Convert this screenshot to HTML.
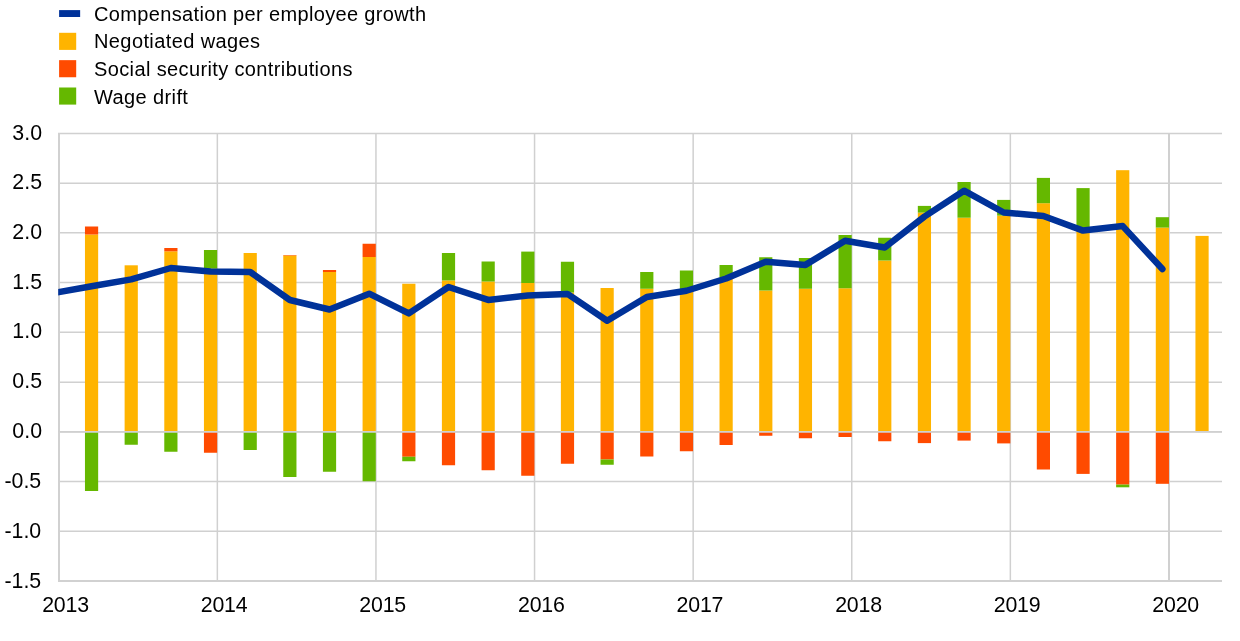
<!DOCTYPE html>
<html lang="en"><head><meta charset="utf-8"><title>Chart</title>
<style>
html,body{margin:0;padding:0;background:#fff;}
body{width:1240px;height:641px;overflow:hidden;}
svg{display:block;}
text{font-family:"Liberation Sans",Arial,sans-serif;font-size:20px;fill:#000;}
text.ax{font-size:21.33px;}
</style></head><body>
<svg width="1240" height="641" viewBox="0 0 1240 641">
<rect width="1240" height="641" fill="#fff"/>

<rect x="59.1" y="10.1" width="21.05" height="6.9" fill="#003299"/>
<rect x="59.1" y="32.8" width="17.1" height="17.1" fill="#FFB400"/>
<rect x="59.1" y="60.15" width="17.1" height="17.1" fill="#FF4B00"/>
<rect x="59.1" y="87.5" width="17.1" height="17.1" fill="#65B800"/>
<text x="94.0" y="20.6" letter-spacing="0.35">Compensation per employee growth</text>
<text x="94.0" y="48.3" letter-spacing="0.4">Negotiated wages</text>
<text x="94.0" y="75.6" letter-spacing="0.375">Social security contributions</text>
<text x="94.0" y="103.8" letter-spacing="0.39">Wage drift</text>
<g stroke="#D0D0D0" stroke-width="1.5" fill="none">
<line x1="58.0" x2="1222" y1="133.50" y2="133.50"/>
<line x1="58.0" x2="1222" y1="183.30" y2="183.30"/>
<line x1="58.0" x2="1222" y1="232.70" y2="232.70"/>
<line x1="58.0" x2="1222" y1="282.50" y2="282.50"/>
<line x1="58.0" x2="1222" y1="332.25" y2="332.25"/>
<line x1="58.0" x2="1222" y1="382.20" y2="382.20"/>
<line x1="58.0" x2="1222" y1="431.85" y2="431.85"/>
<line x1="58.0" x2="1222" y1="481.55" y2="481.55"/>
<line x1="58.0" x2="1222" y1="531.30" y2="531.30"/>
<line x1="217.35" x2="217.35" y1="133.5" y2="581.0"/>
<line x1="375.95" x2="375.95" y1="133.5" y2="581.0"/>
<line x1="534.55" x2="534.55" y1="133.5" y2="581.0"/>
<line x1="693.15" x2="693.15" y1="133.5" y2="581.0"/>
<line x1="851.75" x2="851.75" y1="133.5" y2="581.0"/>
<line x1="1010.35" x2="1010.35" y1="133.5" y2="581.0"/>
<line x1="1169" x2="1169" y1="133.5" y2="581.0" stroke-width="2"/>
</g>
<path d="M59 132.9 V581.0 H1222" stroke="#D1D1D1" stroke-width="2" fill="none"/>
<rect x="84.96" y="234.50" width="13.2" height="197.33" fill="#FFB400"/>
<rect x="84.96" y="226.50" width="13.2" height="8.00" fill="#FF4B00"/>
<rect x="84.96" y="431.83" width="13.2" height="59.17" fill="#65B800"/>
<rect x="124.62" y="265.30" width="13.2" height="166.53" fill="#FFB400"/>
<rect x="124.62" y="431.83" width="13.2" height="12.92" fill="#65B800"/>
<rect x="164.28" y="251.30" width="13.2" height="180.53" fill="#FFB400"/>
<rect x="164.28" y="248.00" width="13.2" height="3.30" fill="#FF4B00"/>
<rect x="164.28" y="431.83" width="13.2" height="19.92" fill="#65B800"/>
<rect x="203.94" y="268.60" width="13.2" height="163.23" fill="#FFB400"/>
<rect x="203.94" y="250.00" width="13.2" height="18.60" fill="#65B800"/>
<rect x="203.94" y="431.83" width="13.2" height="20.92" fill="#FF4B00"/>
<rect x="243.60" y="253.00" width="13.2" height="178.83" fill="#FFB400"/>
<rect x="243.60" y="431.83" width="13.2" height="18.17" fill="#65B800"/>
<rect x="283.26" y="255.50" width="13.2" height="176.33" fill="#FFB400"/>
<rect x="283.26" y="255.00" width="13.2" height="0.50" fill="#FF4B00"/>
<rect x="283.26" y="431.83" width="13.2" height="45.17" fill="#65B800"/>
<rect x="322.92" y="272.00" width="13.2" height="159.83" fill="#FFB400"/>
<rect x="322.92" y="270.00" width="13.2" height="2.00" fill="#FF4B00"/>
<rect x="322.92" y="431.83" width="13.2" height="39.92" fill="#65B800"/>
<rect x="362.58" y="257.00" width="13.2" height="174.83" fill="#FFB400"/>
<rect x="362.58" y="243.75" width="13.2" height="13.25" fill="#FF4B00"/>
<rect x="362.58" y="431.83" width="13.2" height="49.42" fill="#65B800"/>
<rect x="402.24" y="283.75" width="13.2" height="148.08" fill="#FFB400"/>
<rect x="402.24" y="431.83" width="13.2" height="24.92" fill="#FF4B00"/>
<rect x="402.24" y="456.75" width="13.2" height="4.50" fill="#65B800"/>
<rect x="441.90" y="280.40" width="13.2" height="151.43" fill="#FFB400"/>
<rect x="441.90" y="253.00" width="13.2" height="27.40" fill="#65B800"/>
<rect x="441.90" y="431.83" width="13.2" height="33.42" fill="#FF4B00"/>
<rect x="481.56" y="281.50" width="13.2" height="150.33" fill="#FFB400"/>
<rect x="481.56" y="261.50" width="13.2" height="20.00" fill="#65B800"/>
<rect x="481.56" y="431.83" width="13.2" height="38.42" fill="#FF4B00"/>
<rect x="521.22" y="283.00" width="13.2" height="148.83" fill="#FFB400"/>
<rect x="521.22" y="251.60" width="13.2" height="31.40" fill="#65B800"/>
<rect x="521.22" y="431.83" width="13.2" height="43.92" fill="#FF4B00"/>
<rect x="560.88" y="292.50" width="13.2" height="139.33" fill="#FFB400"/>
<rect x="560.88" y="261.75" width="13.2" height="30.75" fill="#65B800"/>
<rect x="560.88" y="431.83" width="13.2" height="31.92" fill="#FF4B00"/>
<rect x="600.54" y="288.00" width="13.2" height="143.83" fill="#FFB400"/>
<rect x="600.54" y="431.83" width="13.2" height="27.67" fill="#FF4B00"/>
<rect x="600.54" y="459.50" width="13.2" height="5.25" fill="#65B800"/>
<rect x="640.20" y="288.75" width="13.2" height="143.08" fill="#FFB400"/>
<rect x="640.20" y="272.00" width="13.2" height="16.75" fill="#65B800"/>
<rect x="640.20" y="431.83" width="13.2" height="24.67" fill="#FF4B00"/>
<rect x="679.86" y="290.00" width="13.2" height="141.83" fill="#FFB400"/>
<rect x="679.86" y="270.50" width="13.2" height="19.50" fill="#65B800"/>
<rect x="679.86" y="431.83" width="13.2" height="19.42" fill="#FF4B00"/>
<rect x="719.52" y="277.50" width="13.2" height="154.33" fill="#FFB400"/>
<rect x="719.52" y="265.00" width="13.2" height="12.50" fill="#65B800"/>
<rect x="719.52" y="431.83" width="13.2" height="13.17" fill="#FF4B00"/>
<rect x="759.18" y="290.50" width="13.2" height="141.33" fill="#FFB400"/>
<rect x="759.18" y="257.25" width="13.2" height="33.25" fill="#65B800"/>
<rect x="759.18" y="431.83" width="13.2" height="3.92" fill="#FF4B00"/>
<rect x="798.84" y="288.75" width="13.2" height="143.08" fill="#FFB400"/>
<rect x="798.84" y="258.00" width="13.2" height="30.75" fill="#65B800"/>
<rect x="798.84" y="431.83" width="13.2" height="6.42" fill="#FF4B00"/>
<rect x="838.50" y="288.25" width="13.2" height="143.58" fill="#FFB400"/>
<rect x="838.50" y="235.00" width="13.2" height="53.25" fill="#65B800"/>
<rect x="838.50" y="431.83" width="13.2" height="5.17" fill="#FF4B00"/>
<rect x="878.16" y="260.50" width="13.2" height="171.33" fill="#FFB400"/>
<rect x="878.16" y="237.75" width="13.2" height="22.75" fill="#65B800"/>
<rect x="878.16" y="431.83" width="13.2" height="9.42" fill="#FF4B00"/>
<rect x="917.82" y="212.60" width="13.2" height="219.23" fill="#FFB400"/>
<rect x="917.82" y="205.90" width="13.2" height="6.70" fill="#65B800"/>
<rect x="917.82" y="431.83" width="13.2" height="11.27" fill="#FF4B00"/>
<rect x="957.48" y="217.70" width="13.2" height="214.13" fill="#FFB400"/>
<rect x="957.48" y="182.00" width="13.2" height="35.70" fill="#65B800"/>
<rect x="957.48" y="431.83" width="13.2" height="8.77" fill="#FF4B00"/>
<rect x="997.14" y="215.60" width="13.2" height="216.23" fill="#FFB400"/>
<rect x="997.14" y="199.90" width="13.2" height="15.70" fill="#65B800"/>
<rect x="997.14" y="431.83" width="13.2" height="11.57" fill="#FF4B00"/>
<rect x="1036.80" y="203.20" width="13.2" height="228.63" fill="#FFB400"/>
<rect x="1036.80" y="177.90" width="13.2" height="25.30" fill="#65B800"/>
<rect x="1036.80" y="431.83" width="13.2" height="37.67" fill="#FF4B00"/>
<rect x="1076.46" y="230.60" width="13.2" height="201.23" fill="#FFB400"/>
<rect x="1076.46" y="188.10" width="13.2" height="42.50" fill="#65B800"/>
<rect x="1076.46" y="431.83" width="13.2" height="42.07" fill="#FF4B00"/>
<rect x="1116.12" y="170.20" width="13.2" height="261.63" fill="#FFB400"/>
<rect x="1116.12" y="431.83" width="13.2" height="52.77" fill="#FF4B00"/>
<rect x="1116.12" y="484.60" width="13.2" height="2.70" fill="#65B800"/>
<rect x="1155.78" y="227.60" width="13.2" height="204.23" fill="#FFB400"/>
<rect x="1155.78" y="217.20" width="13.2" height="10.40" fill="#65B800"/>
<rect x="1155.78" y="431.83" width="13.2" height="51.97" fill="#FF4B00"/>
<rect x="1195.44" y="235.90" width="13.2" height="195.93" fill="#FFB400"/>
<line x1="58.0" x2="1222" y1="431.9" y2="431.9" stroke="#D0D0D0" stroke-width="1.7"/>
<clipPath id="c"><rect x="58.2" y="100" width="1180" height="500"/></clipPath>
<polyline clip-path="url(#c)" points="51.90,293.30 91.56,286.25 131.22,279.40 170.88,268.00 210.54,271.50 250.20,272.00 289.86,300.00 329.52,309.50 369.18,293.70 408.84,313.40 448.50,287.00 488.16,299.90 527.82,295.50 567.48,293.90 607.14,320.70 646.80,297.00 686.46,290.75 726.12,278.50 765.78,261.75 805.44,264.90 845.10,240.75 884.76,247.50 924.42,216.60 964.08,190.70 1003.74,212.50 1043.40,216.00 1083.06,230.60 1122.72,226.10 1162.38,269.00" fill="none" stroke="#003299" stroke-width="6.5" stroke-linejoin="round" stroke-linecap="round"/>
<text class="ax" x="42.0" y="139.50" text-anchor="end">3.0</text>
<text class="ax" x="42.0" y="189.22" text-anchor="end">2.5</text>
<text class="ax" x="42.0" y="238.94" text-anchor="end">2.0</text>
<text class="ax" x="42.0" y="288.67" text-anchor="end">1.5</text>
<text class="ax" x="42.0" y="338.39" text-anchor="end">1.0</text>
<text class="ax" x="42.0" y="388.11" text-anchor="end">0.5</text>
<text class="ax" x="42.0" y="437.83" text-anchor="end">0.0</text>
<text class="ax" x="41.2" y="487.86" text-anchor="end">-0.5</text>
<text class="ax" x="41.2" y="538.08" text-anchor="end">-1.0</text>
<text class="ax" x="41.2" y="587.80" text-anchor="end">-1.5</text>
<text class="ax" x="65.50" y="612.0" text-anchor="middle" letter-spacing="-0.2">2013</text>
<text class="ax" x="224.10" y="612.0" text-anchor="middle" letter-spacing="-0.2">2014</text>
<text class="ax" x="382.70" y="612.0" text-anchor="middle" letter-spacing="-0.2">2015</text>
<text class="ax" x="541.30" y="612.0" text-anchor="middle" letter-spacing="-0.2">2016</text>
<text class="ax" x="699.90" y="612.0" text-anchor="middle" letter-spacing="-0.2">2017</text>
<text class="ax" x="858.50" y="612.0" text-anchor="middle" letter-spacing="-0.2">2018</text>
<text class="ax" x="1017.10" y="612.0" text-anchor="middle" letter-spacing="-0.2">2019</text>
<text class="ax" x="1175.70" y="612.0" text-anchor="middle" letter-spacing="-0.2">2020</text>
</svg></body></html>
